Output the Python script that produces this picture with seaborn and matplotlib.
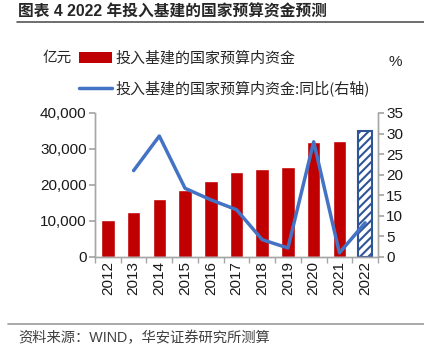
import numpy as np
import pandas as pd
import matplotlib
matplotlib.use("Agg")
import matplotlib.pyplot as plt
import seaborn as sns
from matplotlib.patches import Rectangle
from matplotlib.lines import Line2D

years = ["2012", "2013", "2014", "2015", "2016", "2017", "2018", "2019", "2020", "2021", "2022"]
funds = [10300, 12400, 16000, 18700, 21200, 23600, 24500, 25100, 32000, 32300, 34900]
yoy_years = ["2013", "2014", "2015", "2016", "2017", "2018", "2019", "2020", "2021", "2022"]
yoy = [21.0, 29.4, 16.7, 13.9, 11.5, 4.2, 2.2, 28.0, 1.0, 8.3]

title = "图表 4 2022 年投入基建的国家预算资金预测"
bar_label = "投入基建的国家预算内资金"
line_label = "投入基建的国家预算内资金:同比(右轴)"
source = "资料来源：WIND，华安证券研究所测算"

sns.set_theme(style="white")
plt.rcParams["font.family"] = ["Liberation Sans", "Noto Sans CJK SC", "DejaVu Sans"]
plt.rcParams["hatch.color"] = "#2F5597"
plt.rcParams["hatch.linewidth"] = 1.5

RED = "#C00000"
BLUE = "#4472C4"
DARKBLUE = "#2F5597"
GRAY = "#A6A6A6"
CJK = ["Noto Sans CJK SC", "DejaVu Sans"]

fig = plt.figure(figsize=(4.24, 3.49), dpi=100)
ax = fig.add_axes([95/424, 1-257/349, (378-95)/424, (257-113)/349])

df = pd.DataFrame({"year": years, "funds": funds})
sns.barplot(data=df, x="year", y="funds", color=RED, width=0.53, saturation=1, ax=ax)
last = ax.patches[-1]
last.set_facecolor("white")
last.set_edgecolor(DARKBLUE)
last.set_hatch("////")
last.set_linewidth(1.5)

ax.set_xlim(-0.5, len(years) - 0.5)
ax.set_ylim(0, 40000)
ax.set_yticks(np.arange(0, 40001, 10000))
ax.set_yticklabels([f"{v:,}" for v in range(0, 40001, 10000)])
ax.set_xlabel("")
ax.set_ylabel("")

ax2 = ax.twinx()
pos = [years.index(y) for y in yoy_years]
sns.lineplot(x=pos, y=yoy, color=BLUE, linewidth=2.5, ax=ax2)
ax2.set_ylim(0, 35)
ax2.set_yticks(np.arange(0, 36, 5))
ax2.set_xlim(-0.5, len(years) - 0.5)

for a in (ax, ax2):
    a.spines["top"].set_visible(False)
    for s in ["left", "right", "bottom"]:
        a.spines[s].set_color(GRAY)
        a.spines[s].set_linewidth(1)

ax.tick_params(axis="y", direction="out", length=4, color=GRAY, labelsize=11, pad=2, left=True)
ax2.tick_params(axis="y", direction="out", length=4, color=GRAY, labelsize=11, pad=2, right=True)
ax.tick_params(axis="x", which="major", length=0, labelsize=11, labelrotation=90, pad=3)
ax.set_xticks(np.arange(-0.5, len(years), 1), minor=True)
ax.tick_params(axis="x", which="minor", direction="out", length=4, color=GRAY, bottom=True)
for lbl in ax.get_yticklabels() + ax2.get_yticklabels() + ax.get_xticklabels():
    lbl.set_color("#1a1a1a")

# Title and rules
fig.text(18/424, 1-12/349, title, fontsize=11.3, fontweight="bold", va="center", ha="left",
         family=["Liberation Sans", "Noto Sans CJK SC"])
fig.add_artist(Line2D([17/424, 1.0], [1-22/349, 1-22/349], color="#555555", linewidth=1.2))
fig.add_artist(Line2D([8/424, 1.0], [1-324/349, 1-324/349], color="#999999", linewidth=1.2))
fig.text(18/424, 1-338/349, source, fontsize=10.3, va="center", ha="left", color="#404040",
         family=["Liberation Sans", "Noto Sans CJK SC"])

# Legend / units
fig.text(43/424, 1-58/349, "亿元", fontsize=10.5, va="center", ha="left", family=CJK)
fig.text(395/424, 1-62/349, "%", fontsize=11, va="center", ha="center")
fig.add_artist(Rectangle((79/424, 1-62.5/349), 33/424, 10/349, facecolor=RED, edgecolor="none",
                         transform=fig.transFigure))
fig.text(115/424, 1-58/349, bar_label, fontsize=10.8, va="center", ha="left", family=CJK)
fig.add_artist(Line2D([79/424, 112/424], [1-88/349, 1-88/349], color=BLUE, linewidth=2.5))
fig.text(115/424, 1-88/349, line_label, fontsize=10.8, va="center", ha="left", family=CJK)

fig.savefig("out.png", dpi=100)
